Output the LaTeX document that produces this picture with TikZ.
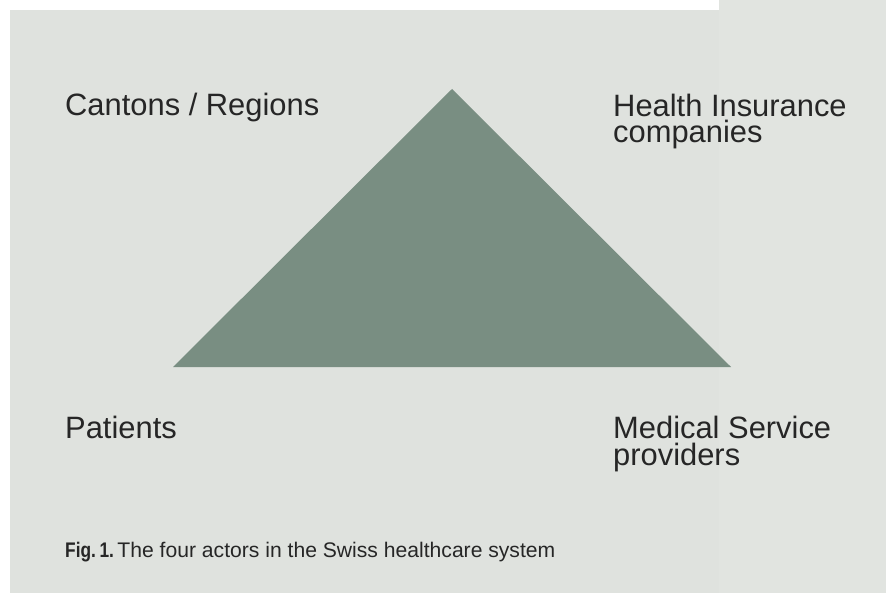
\documentclass[tikz,border=0pt]{standalone}
\usepackage{fontspec}
\setmainfont{Liberation Sans}
\newfontfamily\condfont{Liberation Sans}[FakeStretch=0.82]
\definecolor{panel}{RGB}{223,226,222}
\definecolor{panelright}{RGB}{225,228,224}
\definecolor{tri}{RGB}{121,142,130}
\definecolor{ink}{RGB}{38,38,38}
\tikzset{
  actor/.style={font={\fontsize{31}{27}\selectfont}, text=ink, inner sep=0pt, anchor=base west, align=left},
  caption/.style={font={\fontsize{21.2}{24}\selectfont}, text=ink, inner sep=0pt, anchor=base west}
}
\begin{document}
\begin{tikzpicture}[x=1bp, y=-1bp]
  \useasboundingbox (0,0) rectangle (886,593);
  \fill[white] (0,0) rectangle (886,593);
  \fill[panel] (10,10) rectangle (886,593);
  \fill[panelright] (719,0) rectangle (886,593);
  \coordinate (apex) at (452,89);
  \coordinate (bl) at (173,367);
  \coordinate (br) at (731,367);
  \fill[tri] (apex) -- (br) -- (bl) -- cycle;
  \node[actor] (cantons) at (65,116) {Cantons / Regions};
  \node[actor] (insurance) at (613,143) {Health Insurance\\companies};
  \node[actor] (patients) at (65,438) {Patients};
  \node[actor] (providers) at (613,465) {Medical Service\\providers};
  \node[caption] (fig) at (65,557) {{\condfont\bfseries Fig.\,1.}\,The four actors in the Swiss healthcare system};
\end{tikzpicture}
\end{document}
